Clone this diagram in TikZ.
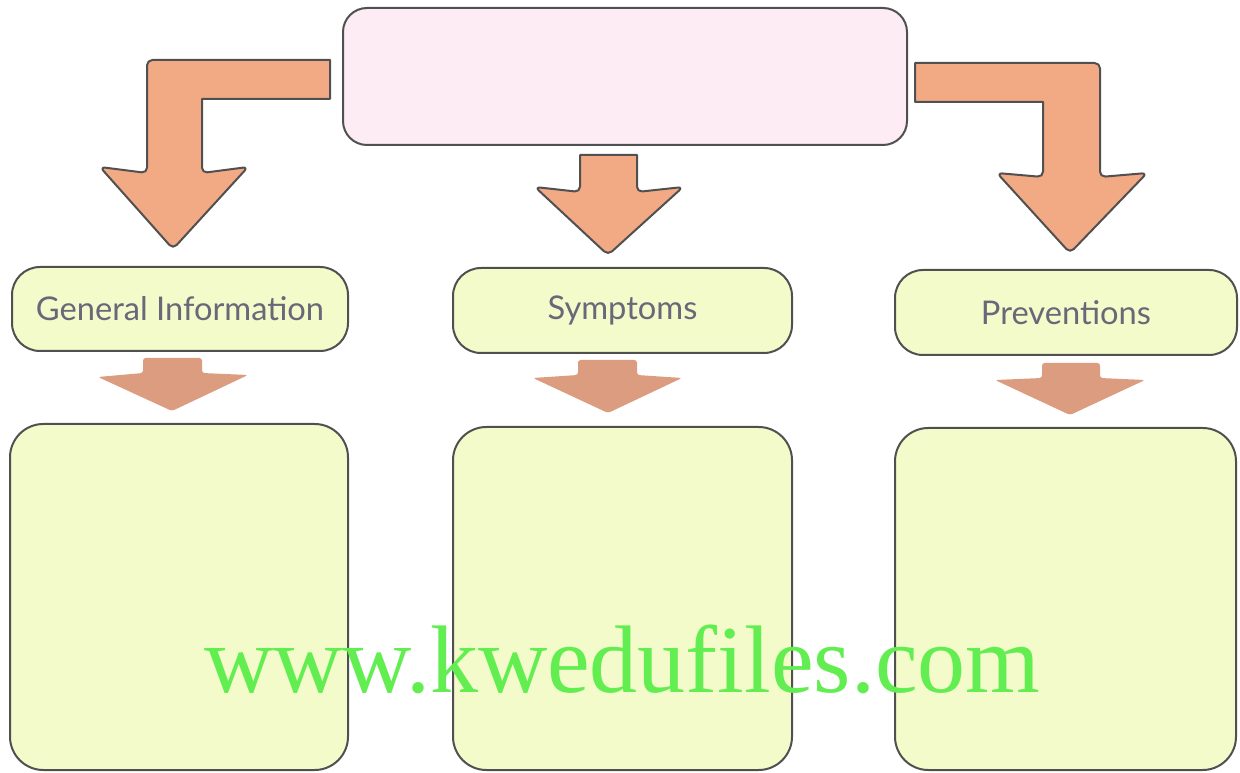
\documentclass[tikz,border=0pt]{standalone}
\usepackage{fontspec}
\setmainfont{Lato}
\newfontfamily\wmfont{Liberation Serif}
\definecolor{edge}{HTML}{505050}
\definecolor{pinkfill}{HTML}{FDECF3}
\definecolor{greenfill}{HTML}{F4FBCA}
\definecolor{arrowtop}{HTML}{F2AA85}
\definecolor{arrowlow}{HTML}{DC9C80}
\definecolor{labelgray}{HTML}{6A6778}
\definecolor{wmgreen}{HTML}{62EE50}
\begin{document}
\begin{tikzpicture}[x=0.75pt,y=-0.75pt,
  topbox/.style={draw=edge,line width=1.5pt,fill=pinkfill,rounded corners=18pt,inner sep=0pt},
  labelbox/.style={draw=edge,line width=1.5pt,fill=greenfill,rounded corners=21pt,inner sep=0pt,
    text=labelgray,font=\fontsize{24.5}{28}\selectfont},
  bigbox/.style={draw=edge,line width=1.5pt,fill=greenfill,rounded corners=25pt,inner sep=0pt},
  toparrow/.style={draw=edge,line width=1.5pt,fill=arrowtop,line join=round},
  lowarrow/.style={fill=arrowlow,rounded corners=2pt},
  watermark/.style={text=wmgreen,font=\wmfont\fontsize{72}{80}\selectfont,inner sep=0pt,anchor=base west}]
\useasboundingbox (0,0) rectangle (1240,773);
\fill[white] (0,0) rectangle (1240,773);

% top box
\node[topbox,minimum width=423pt,minimum height=102.75pt] (top) at (625,76.5) {};

% top arrows
\draw[toparrow] (330,60) [rounded corners=4pt] -- (147,60) -- (147,173) -- (100,167) -- (173,249) -- (248,167) -- (202,173) [sharp corners] -- (202,99) -- (330,99) -- cycle;
\draw[toparrow] (580,155) [rounded corners=4pt] -- (580,192) -- (535,187) -- (608,255) -- (683,187) -- (637,192) [sharp corners] -- (637,155) -- cycle;
\draw[toparrow] (915,63) [rounded corners=4pt] -- (1100,63) -- (1100,177) -- (1147,173) -- (1070,253) -- (997,173) -- (1043,177) [sharp corners] -- (1043,102) -- (915,102) -- cycle;

% label boxes
\node[labelbox,minimum width=252pt,minimum height=63pt] (gen) at (180,309) {General Information};
\node[labelbox,minimum width=254.25pt,minimum height=63.75pt] (sym) at (622.5,310.5) {Symptoms};
\node[labelbox,minimum width=256.5pt,minimum height=63.75pt] (prev) at (1066,312.5) {Preventions};

% lower arrows
\fill[lowarrow] (143,358) -- (202,358) -- (202,373) -- (248,375) -- (172,411) -- (98,377) -- (143,373) -- cycle;
\fill[lowarrow] (578,360) -- (637,360) -- (637,375) -- (682,378) -- (608,413) -- (533,378) -- (578,375) -- cycle;
\fill[lowarrow] (1042,363) -- (1100,363) -- (1100,378) -- (1145,380) -- (1070,415) -- (995,380) -- (1042,378) -- cycle;

% big boxes
\node[bigbox,minimum width=253.5pt,minimum height=259.5pt] (genbox) at (179,597) {};
\node[bigbox,minimum width=254.25pt,minimum height=257.25pt] (symbox) at (622.5,598.5) {};
\node[bigbox,minimum width=255.75pt,minimum height=256.5pt] (prevbox) at (1065.5,599) {};

% watermark
\node[watermark] (wm) at (204,692) {www.kwedufiles.com};
\end{tikzpicture}
\end{document}
